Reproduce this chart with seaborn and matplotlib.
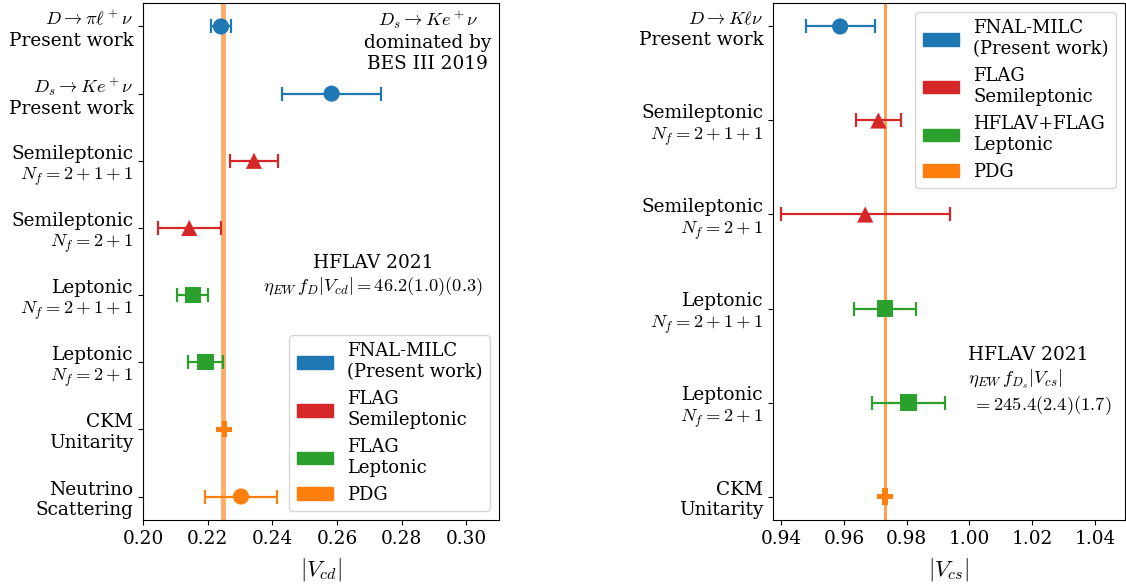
import matplotlib
matplotlib.use("Agg")
import matplotlib.pyplot as plt
from matplotlib.patches import Patch
import pandas as pd
import seaborn as sns

# |V_cd| determinations
cd_labels = [
    "$D\\to\\pi\\ell^+\\nu$\nPresent work",
    "$D_s\\to Ke^+\\nu$\nPresent work",
    "Semileptonic\n$N_f=2+1+1$",
    "Semileptonic\n$N_f=2+1$",
    "Leptonic\n$N_f=2+1+1$",
    "Leptonic\n$N_f=2+1$",
    "CKM\nUnitarity",
    "Neutrino\nScattering",
]
cd_values = [0.2241, 0.2583, 0.2343, 0.2143, 0.2154, 0.2193, 0.2251, 0.2303]
cd_errors = [0.0030, 0.0153, 0.0074, 0.0098, 0.0048, 0.0054, 0.0004, 0.0111]
cd_groups = ["FNAL", "FNAL", "FLAG-SL", "FLAG-SL", "FLAG-L", "FLAG-L", "PDG", "PDG"]
cd_shapes = ["circle", "circle", "triangle", "triangle", "square", "square", "plus", "circle"]
cd_band = (0.22419, 0.22572)

# |V_cs| determinations
cs_labels = [
    "$D\\to K\\ell\\nu$\nPresent work",
    "Semileptonic\n$N_f=2+1+1$",
    "Semileptonic\n$N_f=2+1$",
    "Leptonic\n$N_f=2+1+1$",
    "Leptonic\n$N_f=2+1$",
    "CKM\nUnitarity",
]
cs_values = [0.9588, 0.9710, 0.9668, 0.9731, 0.9806, 0.9731]
cs_errors = [0.0110, 0.0071, 0.0270, 0.0098, 0.0117, 0.0002]
cs_groups = ["FNAL", "FLAG-SL", "FLAG-SL", "FLAG-L", "FLAG-L", "PDG"]
cs_shapes = ["circle", "triangle", "triangle", "square", "square", "plus"]
cs_band = (0.97265, 0.97360)

palette = {"FNAL": "tab:blue", "FLAG-SL": "tab:red", "FLAG-L": "tab:green", "PDG": "tab:orange"}
marker_map = {"circle": "o", "triangle": "^", "square": "s", "plus": "P"}

plt.rcParams.update({
    "font.family": ["DejaVu Serif"],
    "mathtext.fontset": "cm",
    "font.size": 13.3,
    "legend.fontsize": 13,
})

fig = plt.figure(figsize=(11.26, 5.86), dpi=100)
ax1 = fig.add_axes([0.127, 0.1126, 0.316, 0.8823])
ax2 = fig.add_axes([0.6865, 0.1126, 0.3126, 0.8823])


def draw_panel(ax, labels, values, errors, groups, shapes, band, band_alpha):
    n = len(labels)
    df = pd.DataFrame({
        "value": values,
        "error": errors,
        "pos": list(range(n)),
        "group": groups,
        "shape": shapes,
    })
    ax.axvspan(band[0], band[1], color="tab:orange", alpha=band_alpha, lw=0, zorder=1)
    for _, row in df.iterrows():
        ax.errorbar(row["value"], row["pos"], xerr=row["error"], fmt="none",
                    ecolor=palette[row["group"]], elinewidth=1.6,
                    capsize=5, capthick=1.6, zorder=2)
    sns.scatterplot(data=df, x="value", y="pos", hue="group", style="shape",
                    palette=palette, markers=marker_map, s=135, linewidth=0,
                    legend=False, ax=ax, zorder=3)
    pad = 0.05 * (n - 1)
    ax.set_yticks(range(n))
    ax.set_yticklabels(labels)
    ax.set_ylim(n - 1 + pad, -pad)
    ax.set_ylabel("")


draw_panel(ax1, cd_labels, cd_values, cd_errors, cd_groups, cd_shapes, cd_band, 0.62)
ax1.set_xlim(0.20, 0.31)
ax1.set_xticks([0.20, 0.22, 0.24, 0.26, 0.28, 0.30])
ax1.set_xlabel("$|V_{cd}|$", fontsize=16.5, labelpad=6)

ax1.text(0.979, 0.988, "$D_s\\to Ke^+\\nu$\ndominated by\nBES III 2019",
         transform=ax1.transAxes, ha="right", va="top", multialignment="center")
ax1.text(0.646, 0.472, "HFLAV 2021\n$\\eta_{EW}\\, f_D|V_{cd}| = 46.2(1.0)(0.3)$",
         transform=ax1.transAxes, ha="center", va="center", multialignment="center")

draw_panel(ax2, cs_labels, cs_values, cs_errors, cs_groups, cs_shapes, cs_band, 0.75)
ax2.set_xlim(0.9374, 1.0496)
ax2.set_xticks([0.94, 0.96, 0.98, 1.00, 1.02, 1.04])
ax2.set_xlabel("$|V_{cs}|$", fontsize=16.5, labelpad=6)

ax2.text(0.554, 0.336,
         "HFLAV 2021\n$\\eta_{EW}\\, f_{D_s}|V_{cs}|$\n$\\;= 245.4(2.4)(1.7)$",
         transform=ax2.transAxes, ha="left", va="top", multialignment="left")

left_entries = ["FNAL-MILC\n(Present work)", "FLAG\nSemileptonic", "FLAG\nLeptonic", "PDG"]
right_entries = ["FNAL-MILC\n(Present work)", "FLAG\nSemileptonic", "HFLAV+FLAG\nLeptonic", "PDG"]
colors = [palette["FNAL"], palette["FLAG-SL"], palette["FLAG-L"], palette["PDG"]]

ax1.legend(handles=[Patch(color=c, label=l) for c, l in zip(colors, left_entries)],
           loc="lower right")
ax2.legend(handles=[Patch(color=c, label=l) for c, l in zip(colors, right_entries)],
           loc="upper right")

fig.savefig("out.png", dpi=100)
